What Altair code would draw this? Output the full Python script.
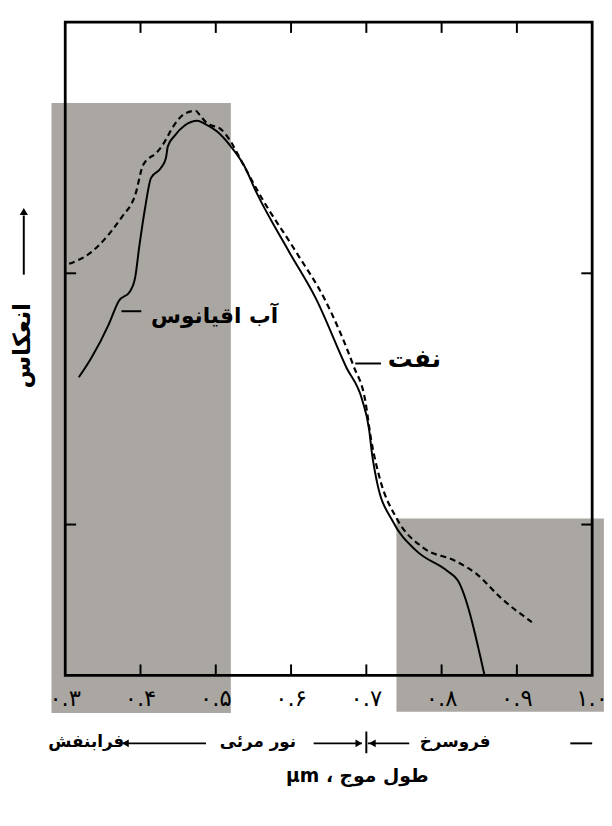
import altair as alt
import pandas as pd

W, H = 534, 662
FONT = "DejaVu Sans"
GRAY = "#aaa7a2"

# ---- data ----
ocean_x = [0.318, 0.335, 0.358, 0.371, 0.386, 0.3931, 0.3983, 0.4062, 0.414, 0.4271, 0.4337,
           0.4363, 0.4455, 0.4586, 0.4756, 0.4848, 0.5018, 0.5189, 0.5372, 0.5543, 0.5975,
           0.6329, 0.6735, 0.6945, 0.7037, 0.7076, 0.7141, 0.7351, 0.7666, 0.8072, 0.8216, 0.857]
ocean_y = [15.86, 16.65, 17.98, 18.89, 19.28, 19.87, 21.05, 22.62, 23.80, 24.19, 24.58,
           25.05, 25.48, 25.88, 26.07, 25.96, 25.64, 25.09, 24.31, 23.20, 20.85,
           19.00, 16.25, 14.96, 13.78, 12.80, 11.70, 10.13, 8.95, 8.16, 7.77, 4.00]

oil_x = [0.3052, 0.3315, 0.3603, 0.3747, 0.3931, 0.4035, 0.4232, 0.4324, 0.4402, 0.4586,
         0.473, 0.4796, 0.4887, 0.5058, 0.5189, 0.532, 0.5412, 0.5608, 0.6067, 0.646,
         0.6827, 0.6984, 0.7063, 0.718, 0.7404, 0.7758, 0.8177, 0.8478, 0.878, 0.9199]
oil_y = [20.38, 20.77, 21.64, 22.22, 23.13, 24.31, 24.86, 25.25, 25.68, 26.35,
         26.47, 26.27, 25.96, 25.76, 25.29, 24.58, 24.07, 23.01, 20.85, 18.89,
         16.33, 14.96, 13.39, 11.82, 10.24, 9.07, 8.56, 8.00, 7.10, 6.12]

tick_values = [0.3, 0.4, 0.5, 0.6, 0.7, 0.8, 0.9, 1.0]
tick_labels = ["۰.۳", "۰.۴", "۰.۵", "۰.۶", "۰.۷", "۰.۸", "۰.۹", "۱.۰"]
inner_x_ticks = [0.4, 0.5, 0.6, 0.7, 0.8, 0.9]
y_ticks = [10, 20]

band_x0 = [0.2817, 0.740]
band_x1 = [0.520, 1.0156]
band_y0 = [2.5, 2.55]
band_y1 = [26.78, 10.24]

curve_names = ["آب اقیانوس", "نفت"]
curve_label_x = [0.414, 0.7286]
curve_label_y = [18.30, 16.57]
curve_dash_x0 = [0.3747, 0.6853]
curve_dash_x1 = [0.401, 0.7194]
curve_dash_y = [18.49, 16.41]
curve_label_size = [22, 25]

region_names = ["فرابنفش", "نور مرئی", "فروسرخ"]
region_x = [0.328, 0.556, 0.818]
region_line_x0 = [0.377, 0.630, 0.702, 0.971]
region_line_x1 = [0.487, 0.694, 0.757, 1.0]
arrow_x = [0.380, 0.690, 0.708]
arrow_shape = ["triangle-left", "triangle-right", "triangle-left"]
divider_x = [0.7]

y_title = "انعکاس"
x_title = "µm ، طول موج"

# ---- scales ----
xs = alt.Scale(domain=[0.3, 1.0], nice=False, zero=False)
ys = alt.Scale(domain=[4, 30], nice=False, zero=False)


def X(f="x"):
    return alt.X(f"{f}:Q", scale=xs, axis=None)


def Y(f="y"):
    return alt.Y(f"{f}:Q", scale=ys, axis=None)


bands = alt.Chart(pd.DataFrame({"x": band_x0, "x2": band_x1, "y": band_y0, "y2": band_y1})).mark_rect(
    color=GRAY, clip=False).encode(x=X(), x2="x2:Q", y=Y(), y2="y2:Q")

ocean = alt.Chart(pd.DataFrame({"x": ocean_x, "y": ocean_y})).mark_line(
    color="black", strokeWidth=2, interpolate="monotone").encode(x=X(), y=Y())

oil = alt.Chart(pd.DataFrame({"x": oil_x, "y": oil_y})).mark_line(
    color="black", strokeWidth=2.2, strokeDash=[6, 4], interpolate="monotone").encode(x=X(), y=Y())

one = pd.DataFrame({"a": [0]})
frame = alt.Chart(one).mark_rect(filled=False, stroke="black", strokeWidth=2.8).encode(
    x=alt.value(0), x2=alt.value(W), y=alt.value(0), y2=alt.value(H))

xt = pd.DataFrame({"x": inner_x_ticks})
top_ticks = alt.Chart(xt).mark_rule(color="black", strokeWidth=2).encode(
    x=X(), y=alt.value(0), y2=alt.value(11))
bot_ticks = alt.Chart(xt).mark_rule(color="black", strokeWidth=2).encode(
    x=X(), y=alt.value(H - 11), y2=alt.value(H))
yt = pd.DataFrame({"y": y_ticks})
left_ticks = alt.Chart(yt).mark_rule(color="black", strokeWidth=2).encode(
    y=Y(), x=alt.value(0), x2=alt.value(11))
right_ticks = alt.Chart(yt).mark_rule(color="black", strokeWidth=2).encode(
    y=Y(), x=alt.value(W - 11), x2=alt.value(W))

tick_text = alt.Chart(pd.DataFrame({"x": tick_values, "t": tick_labels})).mark_text(
    font=FONT, fontSize=23, baseline="middle", align="center", color="black").encode(
    x=X(), y=alt.value(686), text="t:N")

cl = pd.DataFrame({"x": curve_label_x, "y": curve_label_y, "t": curve_names, "s": curve_label_size})
curve_text = alt.Chart(cl).mark_text(
    font=FONT, fontWeight="bold", baseline="middle", align="left", color="black").encode(
    x=X(), y=Y(), text="t:N", size=alt.Size("s:Q", scale=None, legend=None))
cd = pd.DataFrame({"x": curve_dash_x0, "x2": curve_dash_x1, "y": curve_dash_y})
curve_dash = alt.Chart(cd).mark_rule(color="black", strokeWidth=2).encode(x=X(), x2="x2:Q", y=Y())

ytitle = alt.Chart(pd.DataFrame({"t": [y_title]})).mark_text(
    font=FONT, fontWeight="bold", fontSize=24, angle=270, baseline="middle", align="center").encode(
    x=alt.value(-43), y=alt.value(328), text="t:N")
yarrow = alt.Chart(one).mark_rule(color="black", strokeWidth=2).encode(
    x=alt.value(-42), y=alt.value(256), y2=alt.value(196))
yhead = alt.Chart(one).mark_point(shape="triangle-up", filled=True, color="black", size=70, opacity=1).encode(
    x=alt.value(-42), y=alt.value(192))

row_y = 730
reg_text = alt.Chart(pd.DataFrame({"x": region_x, "t": region_names})).mark_text(
    font=FONT, fontWeight="bold", fontSize=17, baseline="middle", align="center").encode(
    x=X(), y=alt.value(row_y), text="t:N")
reg_lines = alt.Chart(pd.DataFrame({"x": region_line_x0, "x2": region_line_x1})).mark_rule(
    color="black", strokeWidth=2).encode(x=X(), x2="x2:Q", y=alt.value(row_y + 1))
reg_heads = alt.Chart(pd.DataFrame({"x": arrow_x, "s": arrow_shape})).mark_point(
    filled=True, color="black", size=60, opacity=1).encode(
    x=X(), y=alt.value(row_y + 1), shape=alt.Shape("s:N", scale=None, legend=None))
divider = alt.Chart(pd.DataFrame({"x": divider_x})).mark_rule(color="black", strokeWidth=2).encode(
    x=X(), y=alt.value(row_y - 11), y2=alt.value(row_y + 11))

xtitle = alt.Chart(pd.DataFrame({"t": [x_title]})).mark_text(
    font=FONT, fontWeight="bold", fontSize=19, baseline="middle", align="center").encode(
    x=alt.value(296), y=alt.value(764), text="t:N")

chart = alt.layer(
    bands, ocean, oil, top_ticks, bot_ticks, left_ticks, right_ticks, frame,
    tick_text, curve_dash, curve_text, ytitle, yarrow, yhead,
    reg_lines, reg_heads, divider, reg_text, xtitle
).properties(
    width=W, height=H,
    autosize=alt.AutoSizeParams(type="none"),
    padding={"left": 58, "top": 9, "right": 12, "bottom": 110},
    background="white",
).configure_view(stroke=None)

chart.save("out.html", embed_options={"renderer": "svg", "actions": False})
